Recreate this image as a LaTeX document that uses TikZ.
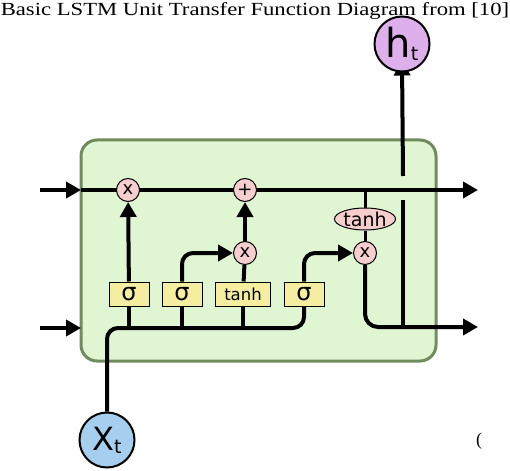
\documentclass[tikz,border=0pt]{standalone}
\usepackage{fontspec}
\setmainfont{Liberation Serif}
\newfontfamily\dejavu{DejaVu Sans}
\usetikzlibrary{arrows.meta,shapes.geometric}
\pgfdeclarelayer{back}
\pgfdeclarelayer{wires}
\pgfsetlayers{back,wires,main}
\definecolor{cellgreen}{RGB}{224,245,210}
\definecolor{cellborder}{RGB}{112,140,92}
\definecolor{gateyellow}{RGB}{245,238,160}
\definecolor{oppink}{RGB}{246,206,206}
\definecolor{inblue}{RGB}{166,206,238}
\definecolor{outlilac}{RGB}{221,176,236}
\tikzset{
  flow/.style={line width=4pt},
  thinflow/.style={line width=3pt},
  gatebox/.style={draw, fill=gateyellow, line width=1pt, minimum width=40pt, minimum height=24pt, inner sep=0pt, font=\dejavu\fontsize{24}{24}\selectfont},
  opnode/.style={circle, draw, fill=oppink, line width=1pt, minimum size=23pt, inner sep=0pt, font=\dejavu\fontsize{18}{18}\selectfont},
  ionode/.style={circle, draw, line width=2pt, minimum size=55pt, inner sep=0pt}
}
\begin{document}
\begin{tikzpicture}[x=1pt, y=-1pt, >={Triangle[length=15pt,width=16pt]}]
\useasboundingbox (0,0) rectangle (510,470);
\node[font=\fontsize{18.5}{18.5}\selectfont, xscale=1.225, inner sep=0pt, anchor=base] (title) at (255,16) {Basic LSTM Unit Transfer Function Diagram from [10]};
% cell
\begin{pgfonlayer}{back}
\draw[fill=cellgreen, draw=cellborder, line width=3pt, rounded corners=16pt] (81,140) rectangle (436,361);
\end{pgfonlayer}
% gates and operations
\node[gatebox] (sig1) at (129,294) {σ};
\node[gatebox] (sig2) at (182,294) {σ};
\node[gatebox, minimum width=55pt, font=\dejavu\fontsize{16.5}{16.5}\selectfont] (tanhg) at (243,294) {tanh};
\node[gatebox] (sig3) at (304,294) {σ};
\node[opnode] (mulf) at (128,190) {x};
\node[opnode] (addc) at (245,190) {+};
\node[opnode] (muli) at (245,253) {x};
\node[opnode] (mulo) at (365,253) {x};
\node[ellipse, draw, fill=oppink, line width=1pt, minimum width=55pt, minimum height=22pt, inner sep=0pt, font=\dejavu\fontsize{19}{19}\selectfont] (tanhc) at (365,219) {tanh};
\coordinate (ctap) at (365,190);
\coordinate (hlow) at (403,327);
\coordinate (hgapb) at (403,200);
\coordinate (hgapt) at (403,176);
\coordinate (xbend) at (304,328);
% inputs and outputs
\node[ionode, fill=inblue, font=\dejavu\fontsize{32}{32}\selectfont] (xt) at (107,440) {X\raisebox{-3pt}{\fontsize{19}{19}\selectfont t}};
\node[ionode, fill=outlilac, font=\dejavu\fontsize{40}{40}\selectfont] (ht) at (402,44) {h\raisebox{-3pt}{\fontsize{19}{19}\selectfont t}};
\node[font=\fontsize{18}{18}\selectfont] (cut) at (479,441) {(};
\begin{pgfonlayer}{wires}
% cell state
\draw[flow,->] (40,190)--(81,190);
\draw[flow,->] (81,190)--(478,190);
\draw[thinflow] (ctap)--(tanhc);
\draw[thinflow] (tanhc)--(mulo);
% hidden input
\draw[flow,->] (40,328)--(81,328);
\draw[flow, rounded corners=11pt] (xt.north) |- (xbend) -- (sig3.south);
\foreach \g in {sig1,sig2,tanhg}
{
    \draw[flow] (\g.south)--(\g.south |- xbend);
}
\draw[flow,->] (sig1)--(mulf);
\draw[flow,->, rounded corners=11pt] (sig2.north) |- (muli.west);
\draw[flow] (tanhg)--(muli);
\draw[flow,->] (muli)--(addc);
\draw[flow,->, rounded corners=11pt] (sig3.north) |- (mulo.west);
% output
\draw[flow,->, rounded corners=13pt] (mulo.south) |- (478,327);
\draw[flow] (hlow)--(hgapb);
\draw[flow,->] (hgapt)--([yshift=12pt]ht.south);
\end{pgfonlayer}
\end{tikzpicture}
\end{document}
